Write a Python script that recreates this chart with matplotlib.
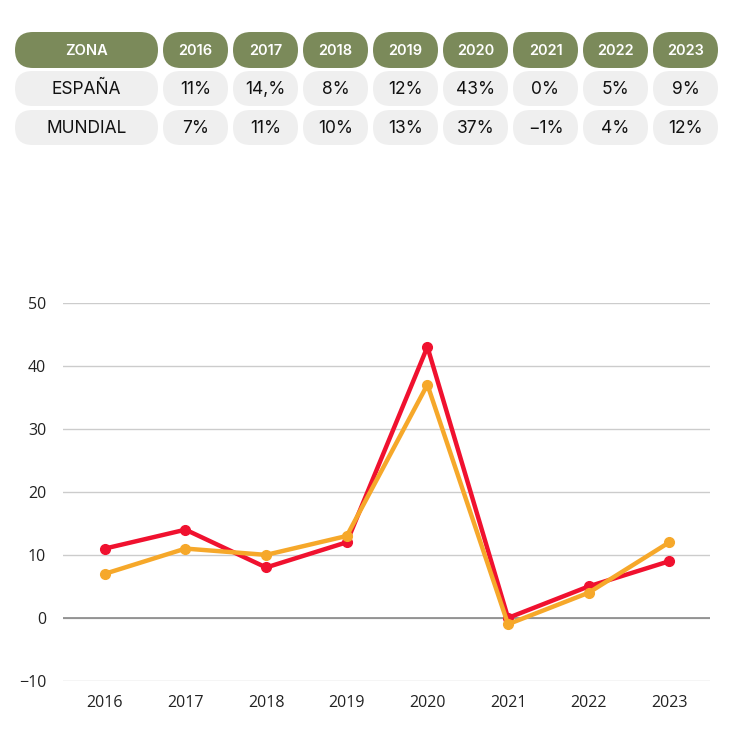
import matplotlib.pyplot as plt
from matplotlib.patches import FancyBboxPatch

anios = ["2016", "2017", "2018", "2019", "2020", "2021", "2022", "2023"]
espana = [11, 14, 8, 12, 43, 0, 5, 9]
mundial = [7, 11, 10, 13, 37, -1, 4, 12]
cabecera = ["ZONA"] + anios
fila_espana = ["ESPAÑA", "11%", "14,%", "8%", "12%", "43%", "0%", "5%", "9%"]
fila_mundial = ["MUNDIAL", "7%", "11%", "10%", "13%", "37%", "-1%", "4%", "12%"]

verde = "#7b8a5a"
gris = "#efefef"
rojo = "#f0112f"
naranja = "#f6a82a"

plt.rcParams['font.family'] = ['Open Sans', 'DejaVu Sans']

fig = plt.figure(figsize=(7.4, 7.33), dpi=100)

# tabla de arriba, dibujada en pixeles
tabla = fig.add_axes([0, 0, 1, 1])
tabla.set_xlim(0, 740)
tabla.set_ylim(733, 0)
tabla.axis("off")

cols = [(15, 158)] + [(163 + 70 * i, 228 + 70 * i) for i in range(8)]
filas = [(32, 68, cabecera, verde), (71, 106, fila_espana, gris), (110, 145, fila_mundial, gris)]
for y0, y1, textos, color in filas:
    for (x0, x1), t in zip(cols, textos):
        h = y1 - y0
        tabla.add_patch(FancyBboxPatch((x0, y0), x1 - x0, h,
                                       boxstyle="round,pad=0,rounding_size=%f" % (h / 2),
                                       fc=color, ec="none"))
        t = t.replace("-", "\u2212")
        if color == verde:
            tabla.text((x0 + x1) / 2, (y0 + y1) / 2 + 1, t, color="white", fontsize=10.5,
                       fontweight="semibold", ha="center", va="center", family=["Inter", "DejaVu Sans"])
        else:
            tabla.text((x0 + x1) / 2, (y0 + y1) / 2 + 1, t, color="#111111", fontsize=12.5,
                       ha="center", va="center", family=["Inter", "DejaVu Sans"])

# grafico de lineas
ax = fig.add_axes([0.085, 0.071, 0.874, 0.516])
x = list(range(len(anios)))
ax.plot(x, espana, color=rojo, lw=3.2, marker="o", ms=7, zorder=3)
ax.plot(x, mundial, color=naranja, lw=3.2, marker="o", ms=7, zorder=4)
ax.set_xlim(-0.52, 7.5)
ax.set_ylim(-10, 50)
ax.set_yticks(range(-10, 51, 10))
ax.set_xticks(x)
ax.set_xticklabels(anios)
ax.grid(axis="y", color="#cccccc", lw=1)
ax.axhline(0, color="#888888", lw=1.2, zorder=1)
ax.set_axisbelow(True)
for s in ax.spines.values():
    s.set_visible(False)
ax.tick_params(length=0, labelsize=11.5, colors="#222222", pad=10)
ax.tick_params(axis="y", pad=12)

fig.savefig("out.png", dpi=100)
